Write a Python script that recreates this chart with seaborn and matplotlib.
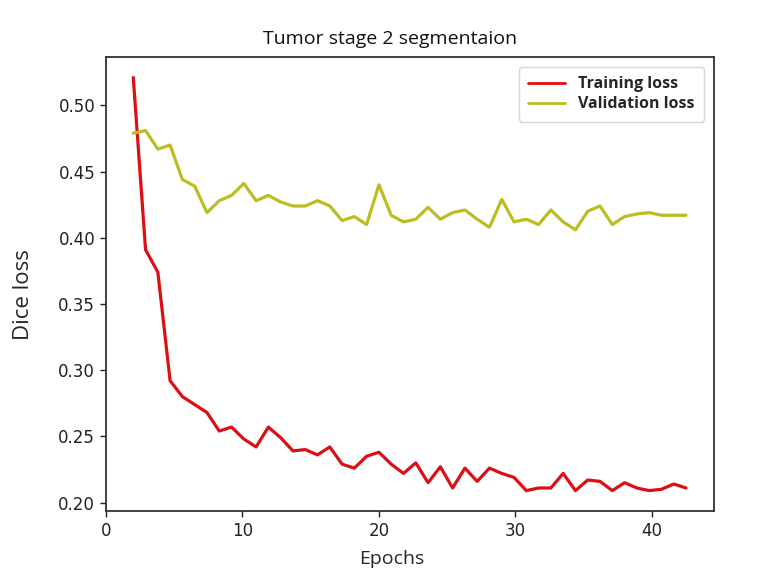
import numpy as np
import pandas as pd
import matplotlib
matplotlib.use("Agg")
import matplotlib.pyplot as plt
import seaborn as sns

epochs = [2.0, 2.9, 3.8, 4.7, 5.6, 6.5, 7.4, 8.3, 9.2, 10.1,
          11.0, 11.9, 12.8, 13.7, 14.6, 15.5, 16.4, 17.3, 18.2, 19.1,
          20.0, 20.9, 21.8, 22.7, 23.6, 24.5, 25.4, 26.3, 27.2, 28.1,
          29.0, 29.9, 30.8, 31.7, 32.6, 33.5, 34.4, 35.3, 36.2, 37.1,
          38.0, 38.9, 39.8, 40.7, 41.6, 42.5]

training_loss = [0.521, 0.391, 0.374, 0.292, 0.280, 0.274, 0.268, 0.254, 0.257, 0.248,
                 0.242, 0.257, 0.249, 0.239, 0.240, 0.236, 0.242, 0.229, 0.226, 0.235,
                 0.238, 0.229, 0.222, 0.230, 0.215, 0.227, 0.211, 0.226, 0.216, 0.226,
                 0.222, 0.219, 0.209, 0.211, 0.211, 0.222, 0.209, 0.217, 0.216, 0.209,
                 0.215, 0.211, 0.209, 0.210, 0.214, 0.211]

validation_loss = [0.479, 0.481, 0.467, 0.470, 0.444, 0.439, 0.419, 0.428, 0.432, 0.441,
                   0.428, 0.432, 0.427, 0.424, 0.424, 0.428, 0.424, 0.413, 0.416, 0.410,
                   0.440, 0.417, 0.412, 0.414, 0.423, 0.414, 0.419, 0.421, 0.414, 0.408,
                   0.429, 0.412, 0.414, 0.410, 0.421, 0.412, 0.406, 0.420, 0.424, 0.410,
                   0.416, 0.418, 0.419, 0.417, 0.417, 0.417]

series_names = ["Training loss", "Validation loss"]
COLORS = {"Training loss": "#dc0f14", "Validation loss": "#bcbd22"}

df = pd.DataFrame({
    "Epochs": epochs * 2,
    "loss": training_loss + validation_loss,
    "series": [series_names[0]] * len(epochs) + [series_names[1]] * len(epochs),
})

sns.set_theme(style="ticks")
plt.rcParams["font.family"] = ["DejaVu Sans"]

fig = plt.figure(figsize=(7.6, 5.81), dpi=100)
ax = fig.add_axes([0.139, 0.120, 0.800, 0.782])

sns.lineplot(data=df, x="Epochs", y="loss", hue="series", hue_order=series_names,
             palette=COLORS, linewidth=2.3, ax=ax)

ax.set_xticks([0, 10, 20, 30, 40])
ax.set_yticks([0.20, 0.25, 0.30, 0.35, 0.40, 0.45, 0.50])
ax.set_yticklabels([f"{v:.2f}" for v in ax.get_yticks()])
ax.tick_params(axis="both", labelsize=12, colors="#222222", length=4, width=1.0)

for sp in ax.spines.values():
    sp.set_color("#333333")
    sp.set_linewidth(1.3)

# the labels in the source sit a little left of the axes centre
text_family = ["Open Sans", "DejaVu Sans"]
ax.set_xlabel("Epochs", fontdict={"family": text_family, "size": 14}, labelpad=8)
ax.xaxis.set_label_coords(0.471, -0.085)
ax.set_ylabel("Dice loss", fontdict={"family": text_family, "size": 16})
ax.yaxis.set_label_coords(-0.118, 0.476)
ax.set_title("Tumor stage 2 segmentaion",
             fontdict={"family": text_family, "size": 14, "weight": "medium"},
             color="#111111", pad=9, x=0.467)

leg = ax.legend(loc="upper right", frameon=True, fancybox=True, borderpad=0.6,
                prop={"family": text_family, "weight": "bold", "size": 11.5},
                handlelength=2.3, borderaxespad=0.6, labelspacing=0.25)
leg.get_frame().set_edgecolor("#cccccc")
for line in leg.get_lines():
    line.set_linewidth(2.0)

fig.savefig("out.png", dpi=100)
